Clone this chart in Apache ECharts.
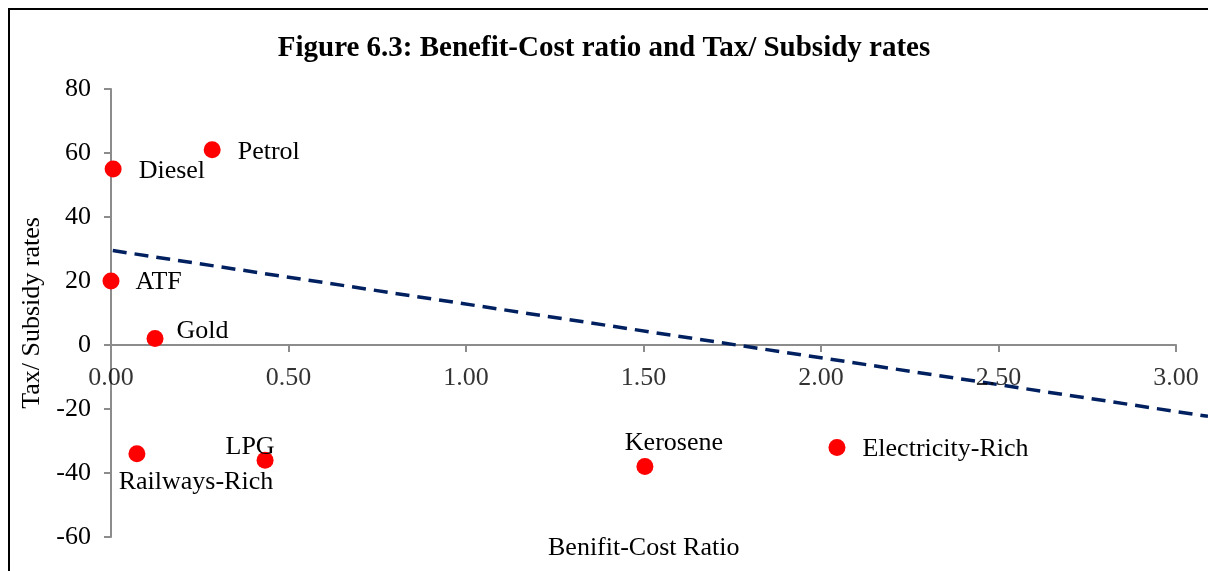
<!DOCTYPE html>
<html><head><meta charset="utf-8">
<script src="https://cdn.jsdelivr.net/npm/echarts@6/dist/echarts.min.js"></script>
<style>html,body{margin:0;padding:0;background:#fff}#c{width:1208px;height:571px}</style>
</head><body><div id="c"></div>
<script>
const names = ['Diesel','Petrol','ATF','Gold','Railways-Rich','LPG','Kerosene','Electricity-Rich'];
const benefitCost = [0.006, 0.285, 0.0, 0.124, 0.073, 0.434, 1.504, 2.045];
const taxSubsidy = [55, 61, 20, 2, -34, -36, -38, -32];
const trendX = [0.005, 3.09];
const trendY = [29.5, -22.3];
const xTicks = [0, 0.5, 1, 1.5, 2, 2.5, 3];
const yTicks = [-60, -40, -20, 0, 20, 40, 60, 80];

const labelPos = {
  'Diesel': {position:'right', offset:[12,2]},
  'Petrol': {position:'right', offset:[12,2]},
  'ATF': {position:'right', offset:[11,1]},
  'Gold': {position:'right', offset:[8,-7]},
  'Railways-Rich': {position:'bottom', offset:[59,2]},
  'LPG': {position:'top', offset:[-15,13]},
  'Kerosene': {position:'top', offset:[29,3]},
  'Electricity-Rich': {position:'right', offset:[12,2]}
};
const font = '"Liberation Serif", "Times New Roman", serif';
const FS = 26;
const pts = names.map((n,i)=>({value:[benefitCost[i], taxSubsidy[i]], name:n,
  label:Object.assign({show:true, formatter:n, color:'#000', fontFamily:font, fontSize:FS}, labelPos[n])}));
const tickPts = xTicks.map(t=>({value:[t,0], label:{show:true, formatter:t.toFixed(2), position:'inside', offset:[0,33],
  color:'#000', fontFamily:font, fontSize:FS}}));

// plot scale: 3.0 units over 1065 px; extended trend grid reaches the right edge (1097 px)
const xMax = xTicks[xTicks.length-1];
const extMax = xMax * (1208 - 111) / (1208 - 111 - 32);

const chart = echarts.init(document.getElementById('c'), null, {renderer:'canvas'});
chart.setOption({
  animation:false,
  backgroundColor:'#fff',
  title:{text:'Figure 6.3: Benefit-Cost ratio and Tax/ Subsidy rates', left:'center', top:29,
    textStyle:{fontFamily:font, fontSize:29, fontWeight:'bold', color:'#000'}},
  graphic:[
    {type:'rect', shape:{x:9,y:9,width:1260,height:620}, style:{fill:'none', stroke:'#000', lineWidth:2}, z:-1},
    {type:'text', left:548, top:535, style:{text:'Benifit-Cost Ratio', fill:'#000', font:FS+'px "Liberation Serif", serif'}}
  ],
  grid:[
    {left:111, right:32, top:89, bottom:34, containLabel:false, outerBoundsMode:'none'},
    {left:111, right:0, top:89, bottom:34, containLabel:false, outerBoundsMode:'none'}
  ],
  xAxis:[
    {type:'value', gridIndex:0, min:xTicks[0], max:xMax, interval:0.5,
    axisLine:{onZero:true, lineStyle:{color:'#8c8c8c', width:2}},
    axisTick:{show:true, inside:false, length:7, lineStyle:{color:'#8c8c8c', width:2}},
    axisLabel:{show:false},
    splitLine:{show:false}},
    {type:'value', gridIndex:1, min:0, max:extMax, show:false, splitLine:{show:false}}
  ],
  yAxis:[
    {type:'value', gridIndex:0, min:yTicks[0], max:yTicks[yTicks.length-1], interval:20,
    name:'Tax/ Subsidy rates', nameLocation:'middle', nameGap:59, nameRotate:90,
    nameTextStyle:{fontFamily:font, fontSize:FS, color:'#000'},
    axisLine:{onZero:false, lineStyle:{color:'#8c8c8c', width:2}},
    axisTick:{show:true, length:7, lineStyle:{color:'#8c8c8c', width:2}},
    axisLabel:{fontFamily:font, fontSize:FS, color:'#000', margin:20},
    splitLine:{show:false}},
    {type:'value', gridIndex:1, min:yTicks[0], max:yTicks[yTicks.length-1], show:false, splitLine:{show:false}}
  ],
  series:[
    {type:'line', xAxisIndex:1, yAxisIndex:1, data:trendX.map((x,i)=>[x, trendY[i]]), showSymbol:false, clip:false,
     lineStyle:{color:'#002060', width:3.5, type:[14,8]}, z:1},
    {type:'scatter', data:pts, symbolSize:17, itemStyle:{color:'#ff0000', opacity:1}, z:3},
    {type:'scatter', data:tickPts, symbolSize:1, silent:true, itemStyle:{color:'rgba(0,0,0,0)'}, z:2}
  ]
});
</script></body></html>
